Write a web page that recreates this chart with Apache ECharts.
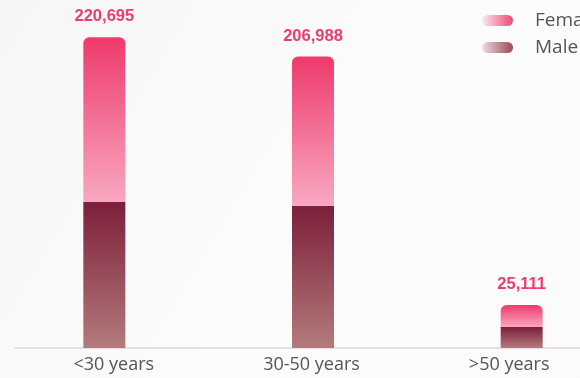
<!DOCTYPE html>
<html>
<head>
<meta charset="utf-8">
<script src="https://cdn.jsdelivr.net/npm/echarts@6/dist/echarts.min.js"></script>
<style>
html,body{margin:0;padding:0;overflow:hidden;width:580px;height:378px;background:#f9f9f9;}
#c{width:626px;height:378px;}
</style>
</head>
<body>
<div id="c"></div>
<script>
var categories = ['<30 years', '30-50 years', '>50 years'];
var totals = [220695, 206988, 25111];
var male = [103600, 101000, 14900];
var female = [117095, 105988, 10211];
var seriesNames = ['Female', 'Male'];

function vgrad(c0, c1) {
  return new echarts.graphic.LinearGradient(0, 0, 0, 1, [{offset: 0, color: c0}, {offset: 1, color: c1}]);
}
function hgrad(c0, c1) {
  return new echarts.graphic.LinearGradient(0, 0, 1, 0, [{offset: 0, color: c0}, {offset: 1, color: c1}]);
}
var chart = echarts.init(document.getElementById('c'), null, {renderer: 'canvas'});
chart.setOption({
  backgroundColor: new echarts.graphic.LinearGradient(0, 0, 1, 1, [{offset: 0, color: '#f6f6f6'}, {offset: 0.6, color: '#fcfcfc'}, {offset: 1, color: '#fafafa'}]),
  animation: false,
  legend: {
    orient: 'vertical',
    left: 477,
    top: 6,
    itemWidth: 31,
    itemHeight: 11,
    itemGap: 8,
    icon: 'path://M5.5,0 H25.5 A5.5,5.5 0 0 1 25.5,11 H5.5 A5.5,5.5 0 0 1 5.5,0 Z',
    textStyle: {color: '#555', fontSize: 19, fontFamily: 'Open Sans', padding: [0, 0, 0, 17]},
    data: [
      {name: seriesNames[0], itemStyle: {color: hgrad('rgba(238,58,108,0.08)', '#ee4b72')}},
      {name: seriesNames[1], itemStyle: {color: hgrad('rgba(150,60,80,0.15)', '#a0475a')}}
    ]
  },
  grid: [
    {left: -1, right: 0, top: 10, bottom: 30, containLabel: false},
    {left: 15, width: 593, top: 10, bottom: 30, containLabel: false}
  ],
  xAxis: [
    {
      type: 'category',
      gridIndex: 0,
      data: categories,
      axisLine: {show: false},
      axisTick: {show: false},
      axisLabel: {show: false}
    },
    {
      type: 'category',
      gridIndex: 1,
      data: categories,
      axisLine: {lineStyle: {color: '#e2d8d8', width: 1.5}},
      axisTick: {show: false},
      axisLabel: {color: '#555', fontSize: 18, fontFamily: 'Open Sans', margin: 8}
    }
  ],
  yAxis: [
    {type: 'value', gridIndex: 0, min: 0, max: 240000, show: false, splitLine: {show: false}},
    {type: 'value', gridIndex: 1, min: 0, max: 240000, show: false, splitLine: {show: false}}
  ],
  series: [
    {
      name: seriesNames[1],
      type: 'bar',
      stack: 'g',
      barWidth: 42,
      z: 3,
      data: male,
      itemStyle: {color: vgrad('#7c1f3a', '#b37b7b')}
    },
    {
      name: seriesNames[0],
      type: 'bar',
      stack: 'g',
      barWidth: 42,
      barMinHeight: 22,
      z: 3,
      data: female,
      itemStyle: {color: vgrad('#ee3a6c', '#f8a8c1'), borderRadius: [6, 6, 0, 0]},
      label: {
        show: true,
        position: 'top',
        distance: 12,
        color: '#ee3a6c',
        fontWeight: 'bold',
        fontSize: 16.5,
        fontFamily: 'Liberation Sans',
        formatter: function (p) { return totals[p.dataIndex].toLocaleString('en-US'); }
      }
    }
  ]
});
</script>
</body>
</html>
